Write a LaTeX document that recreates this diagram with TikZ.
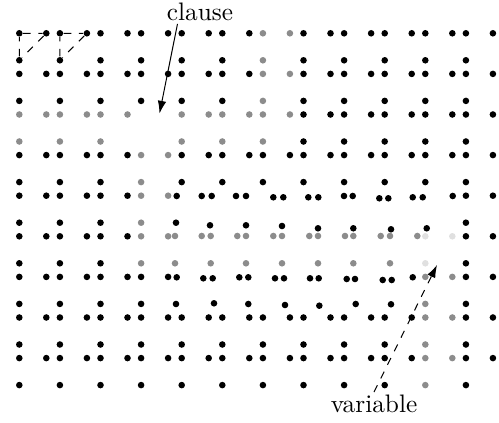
\documentclass[tikz,border=0pt]{standalone}
\usetikzlibrary{arrows.meta,positioning}

% three dots of one cell: name, style, top left, top right, bottom left
\newcommand{\tri}[5]{%
  \node[#2] (#1a) at (#3) {};
  \node[#2] (#1b) at (#4) {};
  \node[#2] (#1c) at (#5) {};}
\def\nocell{--}

\begin{document}
\begin{tikzpicture}[
  x=0.3953pt, y=-0.3953pt,
  dot/.style={circle, inner sep=0pt, minimum size=2.6pt},
  blk/.style={dot, fill=black},
  gry/.style={dot, fill=black!45},
  pale/.style={dot, fill=black!12},
  link/.style={dashed},
  arrow/.style={-{Latex[length=5pt, width=3.4pt]}},
  label/.style={inner sep=1pt, font=\normalsize}
]
\useasboundingbox (0,0) rectangle (499,423);

% Regular cells (-- means no cell there)
\foreach \r/\cells in {
  0/{blk,blk,blk,blk,blk,blk,gry,blk,blk,blk,blk,blk},
  1/{blk,blk,blk,blk,blk,blk,gry,blk,blk,blk,blk,blk},
  2/{gry,gry,gry,--,gry,gry,gry,blk,blk,blk,blk,blk},
  3/{blk,blk,blk,gry,blk,blk,blk,blk,blk,blk,blk,blk},
  4/{blk,blk,blk,gry,--,--,--,--,--,--,--,blk},
  5/{blk,blk,blk,gry,--,--,--,--,--,--,pale,blk},
  6/{blk,blk,blk,blk,--,--,--,--,--,--,gry,blk},
  7/{blk,blk,blk,blk,blk,blk,blk,blk,blk,blk,gry,blk},
  8/{blk,blk,blk,blk,blk,blk,blk,blk,blk,blk,gry,blk}}{
  \foreach \s [count=\c from 0] in \cells {
    \edef\cur{\s}
    \ifx\cur\nocell\else
      \pgfmathsetmacro{\x}{19.3+40.6*\c}
      \pgfmathsetmacro{\y}{33.3+40.6*\r}
      \tri{n-\r-\c-}{\cur}{\x,\y}{\x+27,\y}{\x,\y+27}
    \fi
  }
}

% Shifted cells, row 4
\foreach \xa/\ya/\xb/\yb/\xc/\yc [count=\i] in {
  176.7/196/201.7/196/176/222.7, 211.7/196/236/196/210/225.3,
  246/196/273.3/197.3/246/225.3, 283.3/197.3/308.3/197.3/282/226,
  318.3/197.3/344/196/318/228.3, 352.7/196/379.3/198.3/353.3/228.3,
  388.3/198.3/412.7/197.3/391/229.3, 422.7/197.3/452.7/196/426.7/228.3}{
  \tri{s-4-\i-}{blk}{\xa,\ya}{\xb,\yb}{\xc,\yc}
}

% Shifted cells, row 5
\foreach \xa/\xb [count=\i] in {
  175/201.7, 210.7/237.3, 246/273.3, 282/309.3,
  318/345, 353.3/380.7, 390/417.3}{
  \tri{s-5-\i-}{gry}{\xa,236}{\xb,236}{\xa,263.3}
}

% Shifted cells, row 6
\foreach \xa/\ya/\xb/\yb/\xc/\yc [count=\i] in {
  176.7/277.3/203.3/278.3/176/304, 212.7/278.3/239.3/277.3/214/303.3,
  248.3/277.3/275/278.3/248.3/304, 284/278.3/310/278.3/285/305,
  318.7/278.3/346.7/279/319.3/305.7, 355/279/382.7/280/355.7/304,
  391.7/280/412.7/277.3/391/304.3}{
  \tri{s-6-\i-}{blk}{\xa,\ya}{\xb,\yb}{\xc,\yc}
}

% Dashed triangles
\draw[link] (n-0-0-a) -- (n-0-0-b) -- (n-0-0-c) -- (n-0-0-a);
\draw[link] (n-0-1-a) -- (n-0-1-b) -- (n-0-1-c) -- (n-0-1-a);

% Labels
\node[label] (clause) at (200,12) {clause};
\node[label] (variable) at (374,404) {variable};
\coordinate (clausept) at (159.5,113.5);
\coordinate (varpt) at (437,265);

% Arrows
\draw[arrow] ([xshift=-8.9pt]clause.south) -- (clausept);
\draw[arrow, link] (variable.north) -- (varpt);

\end{tikzpicture}
\end{document}
